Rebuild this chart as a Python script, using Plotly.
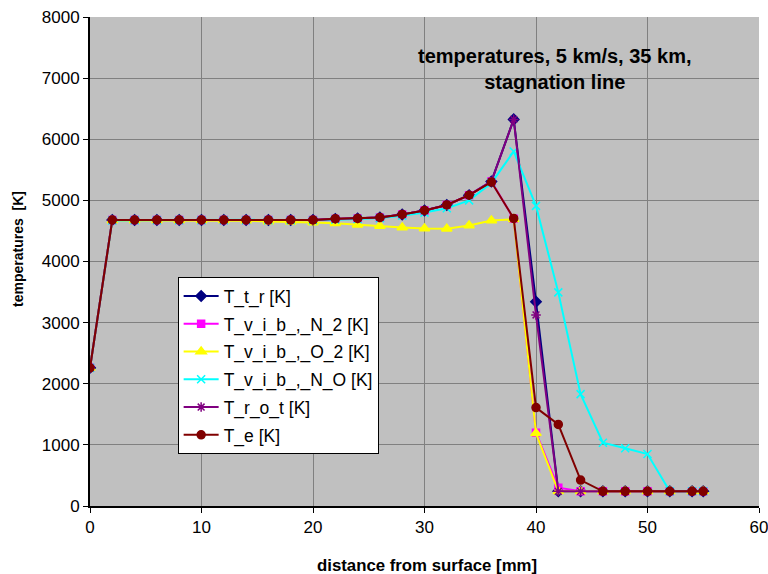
import plotly.graph_objects as go

x_mm = [0, 2, 4, 6, 8, 10, 12, 14, 16, 18, 20, 22, 24, 26, 28, 30, 32, 34, 36, 38, 40, 42, 44, 46, 48, 50, 52, 54, 55]

T_tr = [2260, 4680, 4680, 4680, 4680, 4680, 4680, 4680, 4680, 4680, 4680, 4695, 4705, 4720, 4770, 4835, 4925, 5085, 5310, 6325, 3340, 240, 240, 240, 240, 240, 240, 240, 240]
T_vib_N2 = [2260, 4680, 4680, 4680, 4680, 4680, 4680, 4680, 4680, 4680, 4680, 4695, 4705, 4720, 4770, 4835, 4925, 5085, 5310, 4700, 1200, 300, 240, 240, 240, 240, 240, 240, 240]
T_vib_O2 = [2260, 4670, 4670, 4670, 4670, 4670, 4670, 4665, 4655, 4650, 4640, 4625, 4600, 4580, 4555, 4540, 4535, 4590, 4670, 4690, 1190, 240, 240, 240, 240, 240, 240, 240, 240]
T_vib_NO = [2260, 4670, 4675, 4675, 4675, 4675, 4675, 4675, 4675, 4675, 4675, 4685, 4695, 4710, 4750, 4800, 4870, 5000, 5285, 5800, 4910, 3495, 1830, 1035, 945, 850, 240, 240, 240]
T_rot = [2260, 4680, 4680, 4680, 4680, 4680, 4680, 4680, 4680, 4680, 4680, 4695, 4705, 4720, 4770, 4835, 4925, 5085, 5310, 6325, 3125, 240, 240, 240, 240, 240, 240, 240, 240]
T_e = [2260, 4680, 4680, 4680, 4680, 4680, 4680, 4680, 4680, 4680, 4680, 4700, 4705, 4720, 4770, 4835, 4925, 5085, 5300, 4705, 1610, 1335, 425, 240, 240, 240, 240, 240, 240]

series_names = ["T_t_r [K]", "T_v_i_b_,_N_2 [K]", "T_v_i_b_,_O_2 [K]", "T_v_i_b_,_N_O [K]", "T_r_o_t [K]", "T_e [K]"]
series_values = [T_tr, T_vib_N2, T_vib_O2, T_vib_NO, T_rot, T_e]
series_colors = ["#000080", "#FF00FF", "#FFFF00", "#00FFFF", "#800080", "#800000"]
series_symbols = ["diamond", "square", "triangle-up", "x-thin-open", "asterisk-open", "circle"]
series_sizes = [8, 7, 9, 8, 8, 8]

title_text = "temperatures, 5 km/s, 35 km,<br>stagnation line"
x_title = "distance from surface [mm]"
y_title = "temperatures  [K]"

fig = go.Figure()
for name, vals, col, sym, sz in zip(series_names, series_values, series_colors, series_symbols, series_sizes):
    fig.add_trace(go.Scatter(
        x=x_mm, y=vals, name=name, legendgroup=name, mode="lines+markers",
        line=dict(color=col, width=2),
        marker=dict(symbol=sym, size=sz, color=col, line=dict(color=col, width=1.5)),
    ))

font_family = "Liberation Sans, Arial, sans-serif"

fig.update_layout(
    width=768, height=574,
    margin=dict(l=90, r=9, t=17, b=68),
    paper_bgcolor="white",
    plot_bgcolor="#C0C0C0",
    font=dict(family=font_family, size=17, color="black"),
    showlegend=True,
    legend=dict(
        x=0.131, y=0.468, xanchor="left", yanchor="top",
        bgcolor="white", bordercolor="black", borderwidth=1,
        font=dict(size=17.5), tracegroupgap=2, itemsizing="trace", itemwidth=35,
    ),
    xaxis=dict(
        range=[0, 60], dtick=10, tick0=0, automargin=False,
        ticklabeloverflow="allow",
        showgrid=True, gridcolor="#808080", gridwidth=1,
        showline=True, linecolor="black", linewidth=2,
        ticks="outside", ticklen=5, tickcolor="black",
        zeroline=False,
    ),
    yaxis=dict(
        range=[0, 8000], dtick=1000, tick0=0, automargin=False,
        ticklabeloverflow="allow",
        showgrid=True, gridcolor="#808080", gridwidth=1,
        showline=True, linecolor="black", linewidth=2,
        ticks="outside", ticklen=5, tickcolor="black",
        zeroline=False,
    ),
    annotations=[
        dict(
            x=0.6936, y=0.8937, xref="paper", yref="paper",
            text="<b>" + title_text + "</b>", showarrow=False,
            font=dict(size=20), align="center", xanchor="center", yanchor="middle",
        ),
        dict(
            x=0.5037, y=-0.1207, xref="paper", yref="paper",
            text="<b>" + x_title + "</b>", showarrow=False,
            font=dict(size=16.8), xanchor="center", yanchor="middle",
        ),
        dict(
            x=-0.1076, y=0.5256, xref="paper", yref="paper",
            text="<b>" + y_title + "</b>", showarrow=False, textangle=-90,
            font=dict(size=14), xanchor="center", yanchor="middle",
        ),
    ],
)

# remove the browser's default 8px body margin so the figure fills the window exactly
fig.write_html(
    "out.html",
    config={"displayModeBar": False},
    post_script="document.body.style.margin='0px';",
)
